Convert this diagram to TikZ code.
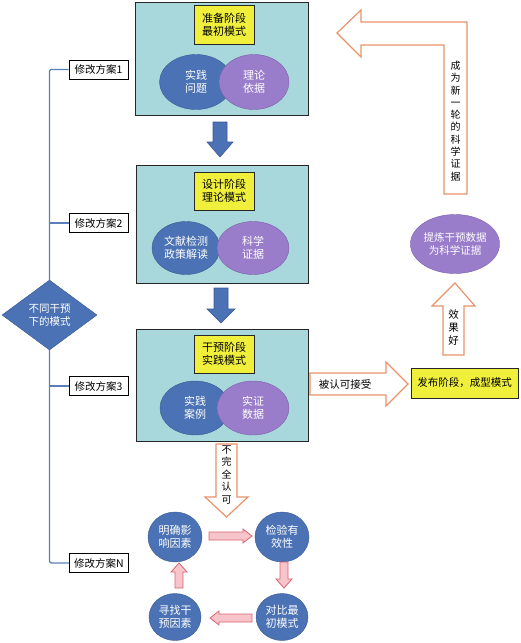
\documentclass[tikz,border=0pt]{standalone}
\usepackage{fontspec}
\setmainfont{Noto Sans CJK SC}
\usetikzlibrary{shapes.geometric}
\definecolor{boxfill}{HTML}{A9D8DC}
\definecolor{ylw}{HTML}{F0F03C}
\definecolor{bluel}{HTML}{4B72B4}
\definecolor{blued}{HTML}{3A5A92}
\definecolor{purp}{HTML}{9A7DCA}
\definecolor{purpd}{HTML}{7A60A8}
\definecolor{orng}{HTML}{E8946A}
\definecolor{lineblue}{HTML}{5B7FB8}
\definecolor{pinkf}{HTML}{F6C4CA}
\definecolor{pinkd}{HTML}{D9646F}
\tikzset{
  stagebox/.style={draw=black!85, line width=1pt, fill=boxfill, inner sep=0pt},
  ylwbox/.style={draw=black!85, line width=1pt, fill=ylw, inner sep=0pt, align=center, font=\fontsize{11}{13.5}\selectfont},
  blueell/.style={ellipse, draw=blued, fill=bluel, text=white, inner sep=0pt, align=center, font=\fontsize{11}{13.5}\selectfont},
  purpell/.style={ellipse, draw=purpd, fill=purp, text=white, inner sep=0pt, align=center, font=\fontsize{11}{13.5}\selectfont},
  lblbox/.style={draw=black, line width=0.9pt, fill=white, inner sep=0pt, minimum width=59pt, minimum height=19pt, font=\fontsize{10.5}{12}\selectfont},
  branch/.style={draw=lineblue, line width=1.3pt, rounded corners=2pt},
  bluearrow/.style={fill=bluel, draw=blued, line width=0.6pt},
  orngarrow/.style={fill=white, draw=orng, line width=1.2pt},
  pinkarrow/.style={fill=pinkf, draw=pinkd, line width=0.8pt},
  vtext/.style={align=center, inner sep=0pt, font=\fontsize{10}{12.3}\selectfont},
}
\begin{document}
\begin{tikzpicture}[x=1pt, y=-1pt]
\useasboundingbox (0,0) rectangle (521,643);

% stage boxes
\node[stagebox, minimum width=173pt, minimum height=113pt] (b1) at (221.5,58.5) {};
\node[stagebox, minimum width=172pt, minimum height=118pt] (b2) at (222,224) {};
\node[stagebox, minimum width=172pt, minimum height=112pt] (b3) at (222,385) {};

\node[ylwbox, minimum width=60pt, minimum height=39pt] (y1) at (224,25) {准备阶段\\最初模式};
\node[ylwbox, minimum width=60pt, minimum height=38pt] (y2) at (224,191) {设计阶段\\理论模式};
\node[ylwbox, minimum width=60pt, minimum height=38pt] (y3) at (224,354) {干预阶段\\实践模式};

\node[blueell, minimum width=73pt, minimum height=55pt] (e1a) at (196,82) {实践\\问题};
\node[purpell, minimum width=70pt, minimum height=55pt] (e1b) at (254,82) {理论\\依据};
\node[blueell, minimum width=68pt, minimum height=53pt] (e2a) at (186,248) {文献检测\\政策解读};
\node[purpell, minimum width=72pt, minimum height=53pt] (e2b) at (253,248) {科学\\证据};
\node[blueell, minimum width=70pt, minimum height=54pt] (e3a) at (195,408) {实践\\案例};
\node[purpell, minimum width=72pt, minimum height=54pt] (e3b) at (253,408) {实证\\数据};

% blue arrows between stages
\draw[bluearrow] (213,122) -- (227,122) -- (227,142) -- (233,142) -- (220,157) -- (207,142) -- (213,142) -- cycle;
\draw[bluearrow] (214,288) -- (228,288) -- (228,309) -- (235,309) -- (221,323) -- (207,309) -- (214,309) -- cycle;

% left branch
\node[diamond, draw=blued, fill=bluel, text=white, minimum width=95pt, minimum height=70pt, inner sep=0pt, align=center, font=\fontsize{10.5}{13}\selectfont] (dia) at (49.5,315) {不同干预\\下的模式};
\node[lblbox] (l1) at (98.5,69.5) {修改方案1};
\node[lblbox] (l2) at (98.5,223) {修改方案2};
\node[lblbox] (l3) at (98.5,386) {修改方案3};
\node[lblbox] (ln) at (99,563) {修改方案N};
\draw[branch] (dia.north) |- (l1.west);
\draw[branch] (l2.west) -- (l2.west -| dia.north);
\draw[branch] (l3.west) -- (l3.west -| dia.north);
\draw[branch] (dia.south) |- (ln.west);

% down outline arrow
\draw[orngarrow] (216,444) -- (237,444) -- (237,497) -- (248,497) -- (226.5,517) -- (205,497) -- (216,497) -- cycle;
\node[vtext, font=\fontsize{10}{12.5}\selectfont] (t1) at (226.5,475) {不\\完\\全\\认\\可};

% cycle
\node[blueell, minimum width=54pt, minimum height=50pt] (c1) at (175,537) {明确影\\响因素};
\node[blueell, minimum width=54pt, minimum height=50pt] (c2) at (282,537) {检验有\\效性};
\node[blueell, minimum width=52pt, minimum height=47pt] (c3) at (282,617) {对比最\\初模式};
\node[blueell, minimum width=52pt, minimum height=47pt] (c4) at (175,617) {寻找干\\预因素};
\draw[pinkarrow] (209,532) -- (243,532) -- (243,529) -- (252,536) -- (243,543) -- (243,540) -- (209,540) -- cycle;
\draw[pinkarrow] (280,562) -- (288,562) -- (288,579) -- (292,579) -- (284,588) -- (276,579) -- (280,579) -- cycle;
\draw[pinkarrow] (252,614) -- (219,614) -- (219,611) -- (210,618) -- (219,625) -- (219,622) -- (252,622) -- cycle;
\draw[pinkarrow] (175,588) -- (183,588) -- (183,572) -- (187,572) -- (179,563) -- (171,572) -- (175,572) -- cycle;

% right side
\draw[orngarrow] (310,373) -- (386,373) -- (386,362) -- (408,384) -- (386,406) -- (386,395) -- (310,395) -- cycle;
\node[font=\fontsize{10.5}{12}\selectfont, inner sep=0pt] (t2) at (345,384) {被认可接受};
\node[ylwbox, minimum width=107pt, minimum height=30pt, font=\fontsize{10.5}{12}\selectfont] (pub) at (464.5,383) {发布阶段，成型模式};

\draw[orngarrow] (455,283) -- (475,306) -- (464,306) -- (464,355) -- (443,355) -- (443,306) -- (432,306) -- cycle;
\node[vtext, font=\fontsize{10.5}{13}\selectfont] (t3) at (453.5,328) {效\\果\\好};

\node[purpell, minimum width=86pt, minimum height=59pt, font=\fontsize{10.5}{13}\selectfont] (ref) at (455,244) {提炼干预数据\\为科学证据};

\draw[orngarrow] (337,33) -- (361,10) -- (361,22) -- (467,22) -- (467,194) -- (444,194) -- (444,45) -- (361,45) -- (361,57) -- cycle;
\node[vtext] (t4) at (455.5,121) {成\\为\\新\\一\\轮\\的\\科\\学\\证\\据};
\end{tikzpicture}
\end{document}
